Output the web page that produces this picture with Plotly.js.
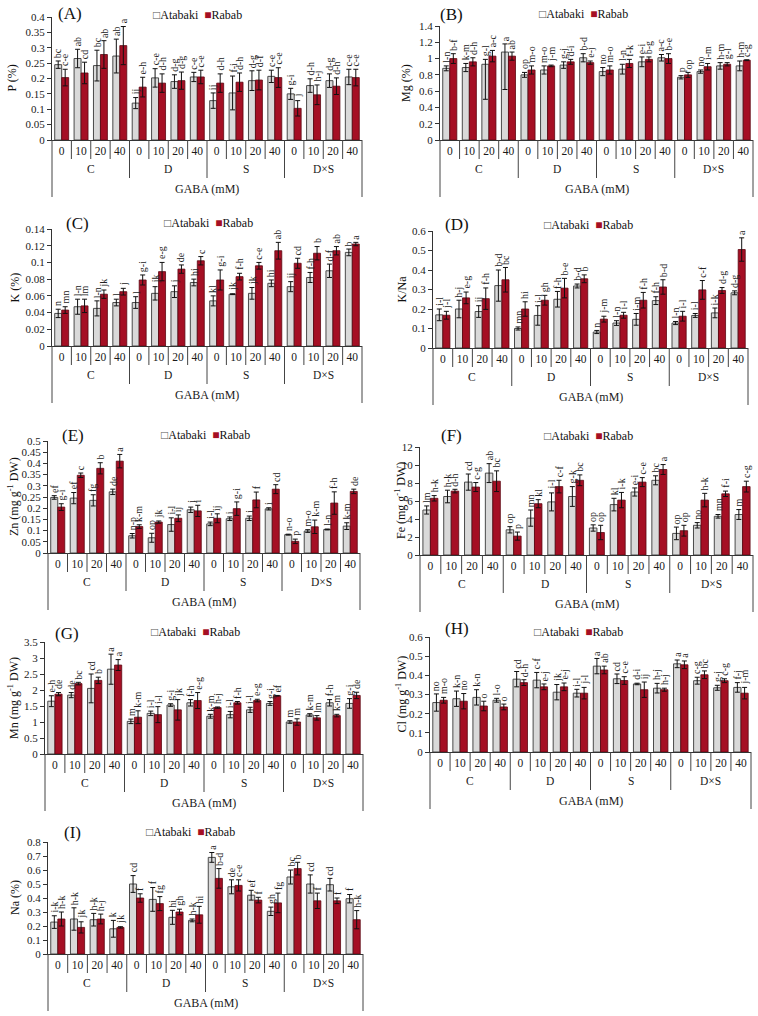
<script src="https://cdn.plot.ly/plotly-3.0.1.min.js"></script>
<style>
  body { margin: 0; background: #fff; }
  #chart { width: 758px; height: 1016px; }
</style>
<div id="chart"></div>
<script>
// category axis: 4 stress groups x 4 GABA levels
const groups = ['C', 'D', 'S', 'D×S'];
const levels = ['0', '10', '20', '40'];

// (A) P
const P_at = [0.245, 0.265, 0.242, 0.273, 0.120, 0.202, 0.190, 0.205, 0.128, 0.153, 0.193, 0.207, 0.150, 0.177, 0.193, 0.205];
const P_atErr = [0.012, 0.030, 0.050, 0.055, 0.018, 0.030, 0.022, 0.015, 0.025, 0.055, 0.032, 0.020, 0.018, 0.022, 0.022, 0.025];
const P_atLet = ['bc', 'ab', 'bc', 'ab', 'ij', 'c-e', 'd-g', 'c-e', 'ij', 'f-i', 'd-g', 'c-e', 'g-i', 'd-h', 'd-g', 'c-e'];
const P_ra = [0.203, 0.218, 0.278, 0.307, 0.172, 0.185, 0.193, 0.205, 0.185, 0.188, 0.195, 0.203, 0.103, 0.147, 0.175, 0.203];
const P_raErr = [0.027, 0.035, 0.045, 0.062, 0.032, 0.030, 0.028, 0.022, 0.030, 0.030, 0.032, 0.032, 0.025, 0.032, 0.027, 0.027];
const P_raLet = ['c-e', 'cd', 'ab', 'a', 'e-h', 'd-h', 'd-g', 'c-e', 'd-h', 'd-h', 'd-f', 'c-e', 'j', 'h-j', 'd-h', 'c-e'];

// (B) Mg
const Mg_at = [0.88, 0.89, 0.93, 1.08, 0.80, 0.86, 0.92, 1.01, 0.84, 0.87, 0.96, 1.01, 0.77, 0.84, 0.91, 0.91];
const Mg_atErr = [0.03, 0.05, 0.06, 0.10, 0.03, 0.05, 0.04, 0.05, 0.05, 0.06, 0.06, 0.04, 0.02, 0.02, 0.04, 0.06];
const Mg_atErrMinus = [0.03, 0.05, 0.43, 0.46, 0.03, 0.05, 0.04, 0.05, 0.05, 0.06, 0.06, 0.04, 0.02, 0.02, 0.04, 0.06];
const Mg_atLet = ['l-n', 'k-m', 'g-l', 'a', 'op', 'm-o', 'g-j', 'b-d', 'no', 'l-n', 'e-i', 'a-c', 'p', 'no', 'h-m', 'h-m'];
const Mg_ra = [1.00, 0.96, 1.03, 1.03, 0.86, 0.91, 0.96, 0.95, 0.86, 0.94, 0.99, 1.00, 0.80, 0.90, 0.93, 0.98];
const Mg_raErr = [0.06, 0.05, 0.07, 0.05, 0.05, 0.01, 0.03, 0.02, 0.05, 0.05, 0.03, 0.06, 0.03, 0.04, 0.02, 0.005];
const Mg_raLet = ['b-f', 'd-h', 'a-c', 'ab', 'm-o', 'j-m', 'd-i', 'e-j', 'm-o', 'f-k', 'b-g', 'b-e', 'op', 'i-m', 'g-l', 'c-g'];

// (C) K
const K_at = [0.039, 0.047, 0.045, 0.052, 0.052, 0.063, 0.065, 0.076, 0.054, 0.062, 0.063, 0.075, 0.071, 0.082, 0.090, 0.112];
const K_atErr = [0.005, 0.009, 0.009, 0.004, 0.007, 0.008, 0.007, 0.004, 0.006, 0.0005, 0.007, 0.004, 0.006, 0.006, 0.008, 0.004];
const K_atLet = ['n', 'l-n', 'l-n', 'l', 'l', 'jk', 'j', 'hi', 'kl', 'jk', 'jk', 'hi', 'ij', 'f-h', 'd-f', 'b'];
const K_ra = [0.043, 0.048, 0.062, 0.065, 0.079, 0.089, 0.092, 0.102, 0.079, 0.083, 0.096, 0.114, 0.099, 0.111, 0.114, 0.122];
const K_raErr = [0.004, 0.008, 0.005, 0.004, 0.006, 0.011, 0.005, 0.005, 0.012, 0.004, 0.004, 0.010, 0.006, 0.008, 0.005, 0.002];
const K_raLet = ['mn', 'lm', 'jk', 'j', 'g-i', 'e-g', 'de', 'c', 'g-i', 'f-h', 'c-e', 'ab', 'cd', 'b', 'ab', 'a'];

// (D) K/Na
const KNa_at = [0.170, 0.200, 0.187, 0.320, 0.100, 0.167, 0.250, 0.318, 0.082, 0.128, 0.147, 0.243, 0.128, 0.167, 0.180, 0.283];
const KNa_atErr = [0.030, 0.045, 0.030, 0.080, 0.008, 0.050, 0.040, 0.010, 0.008, 0.012, 0.030, 0.020, 0.008, 0.010, 0.025, 0.010];
const KNa_atLet = ['i-l', 'h-j', 'ij', 'b-d', 'mn', 'i-l', 'f-h', 'b-d', 'n', 'l-n', 'i-m', 'f-h', 'l-n', 'i-l', 'i-k', 'd-g'];
const KNa_ra = [0.168, 0.257, 0.253, 0.350, 0.200, 0.245, 0.307, 0.355, 0.148, 0.168, 0.245, 0.313, 0.163, 0.298, 0.295, 0.505];
const KNa_raErr = [0.020, 0.030, 0.055, 0.063, 0.037, 0.025, 0.050, 0.020, 0.015, 0.015, 0.040, 0.037, 0.025, 0.048, 0.015, 0.060];
const KNa_raLet = ['j-l', 'e-g', 'f-h', 'bc', 'hi', 'gh', 'b-e', 'b', 'j-m', 'i-l', 'f-h', 'b-d', 'i-l', 'c-f', 'd-g', 'a'];

// (E) Zn
const Zn_at = [0.248, 0.245, 0.235, 0.273, 0.077, 0.068, 0.127, 0.193, 0.130, 0.153, 0.155, 0.197, 0.082, 0.098, 0.105, 0.120];
const Zn_atErr = [0.008, 0.025, 0.025, 0.012, 0.010, 0.020, 0.030, 0.012, 0.008, 0.008, 0.010, 0.005, 0.002, 0.006, 0.002, 0.015];
const Zn_atLet = ['ef', 'ef', 'fg', 'de', 'n-p', 'op', 'i-l', 'j', 'i-l', 'i', 'i', 'i', 'n-o', 'm-o', 'l-n', 'k-m'];
const Zn_ra = [0.205, 0.347, 0.378, 0.410, 0.118, 0.138, 0.155, 0.188, 0.155, 0.198, 0.237, 0.285, 0.052, 0.117, 0.223, 0.275];
const Zn_raErr = [0.015, 0.010, 0.025, 0.030, 0.008, 0.005, 0.015, 0.025, 0.020, 0.030, 0.035, 0.020, 0.010, 0.030, 0.050, 0.010];
const Zn_raLet = ['g-i', 'c', 'b', 'a', 'k-m', 'jk', 'ij', 'i', 'ij', 'g-i', 'f', 'cd', 'p', 'k-m', 'f-h', 'de'];

// (F) Fe
const Fe_at = [5.0, 6.5, 8.1, 9.1, 2.8, 4.1, 5.9, 6.5, 3.0, 5.6, 7.0, 8.3, 2.4, 3.3, 4.3, 4.5];
const Fe_atErr = [0.45, 0.7, 0.9, 1.05, 0.35, 0.9, 1.0, 1.1, 0.35, 0.7, 0.45, 0.5, 0.7, 0.3, 0.2, 0.55];
const Fe_atLet = ['lm', 'h-k', 'cd', 'ab', 'op', 'mn', 'j-l', 'g-k', 'op', 'kl', 'e-i', 'bc', 'op', 'no', 'mn', 'm'];
const Fe_ra = [6.3, 7.1, 7.55, 8.2, 2.1, 5.7, 7.6, 8.3, 2.5, 6.1, 8.1, 9.5, 2.7, 6.1, 6.8, 7.6];
const Fe_raErr = [0.3, 0.2, 0.5, 1.15, 0.45, 0.45, 0.7, 0.6, 0.8, 0.85, 0.5, 0.55, 0.6, 0.75, 0.3, 0.6];
const Fe_raLet = ['h-k', 'd-h', 'c-g', 'bc', 'p', 'kl', 'c-f', 'bc', 'op', 'i-k', 'c-e', 'a', 'op', 'h-k', 'f-i', 'c-g'];

// (G) Mn
const Mn_at = [1.65, 1.84, 2.05, 2.65, 1.02, 1.27, 1.53, 1.60, 1.18, 1.23, 1.38, 1.58, 1.00, 1.22, 1.60, 1.58];
const Mn_atErr = [0.17, 0.08, 0.45, 0.47, 0.07, 0.07, 0.04, 0.10, 0.06, 0.10, 0.08, 0.06, 0.04, 0.04, 0.10, 0.15];
const Mn_atLet = ['e-h', 'de', 'cd', 'a', 'm', 'i-l', 'g-i', 'f-h', 'k-m', 'i-l', 'i-l', 'g-i', 'm', 'k-m', 'f-h', 'g-i'];
const Mn_ra = [1.87, 2.20, 2.30, 2.78, 1.15, 1.23, 1.38, 1.67, 1.45, 1.60, 1.67, 1.82, 1.00, 1.13, 1.20, 1.83];
const Mn_raErr = [0.05, 0.04, 0.10, 0.17, 0.20, 0.25, 0.32, 0.25, 0.02, 0.04, 0.04, 0.01, 0.10, 0.07, 0.04, 0.10];
const Mn_raLet = ['de', 'bc', 'b', 'a', 'k-m', 'i-l', 'jk', 'e-g', 'h-j', 'f-h', 'e-g', 'ef', 'm', 'lm', 'k-m', 'de'];

// (H) Cl
const Cl_at = [0.258, 0.278, 0.285, 0.270, 0.380, 0.375, 0.312, 0.307, 0.448, 0.382, 0.355, 0.333, 0.460, 0.372, 0.335, 0.337];
const Cl_atErr = [0.045, 0.040, 0.040, 0.010, 0.040, 0.040, 0.040, 0.020, 0.040, 0.025, 0.004, 0.025, 0.020, 0.018, 0.013, 0.025];
const Cl_atLet = ['no', 'k-n', 'k-n', 'l-o', 'cd', 'c-f', 'jk', 'i-l', 'a', 'cd', 'd-i', 'h-j', 'a', 'c-g', 'g-j', 'f-j'];
const Cl_ra = [0.270, 0.265, 0.240, 0.235, 0.362, 0.340, 0.340, 0.307, 0.428, 0.373, 0.325, 0.325, 0.455, 0.403, 0.372, 0.307];
const Cl_raErr = [0.015, 0.040, 0.025, 0.015, 0.015, 0.015, 0.020, 0.030, 0.020, 0.020, 0.040, 0.008, 0.020, 0.020, 0.010, 0.030];
const Cl_raLet = ['m-o', 'no', 'o', 'o', 'd-h', 'e-j', 'e-j', 'j-l', 'ab', 'c-e', 'ij', 'h-j', 'a', 'bc', 'c-g', 'j-m'];

// (I) Na
const Na_at = [0.228, 0.250, 0.245, 0.180, 0.500, 0.390, 0.262, 0.240, 0.690, 0.480, 0.420, 0.305, 0.550, 0.500, 0.495, 0.395];
const Na_atErr = [0.045, 0.080, 0.045, 0.060, 0.060, 0.085, 0.050, 0.010, 0.035, 0.050, 0.035, 0.030, 0.050, 0.065, 0.045, 0.030];
const Na_atLet = ['i-k', 'h-k', 'h-k', 'k', 'cd', 'f', 'hi', 'h-k', 'a', 'de', 'ef', 'gh', 'bc', 'cd', 'cd', 'f'];
const Na_ra = [0.250, 0.190, 0.250, 0.190, 0.400, 0.360, 0.300, 0.280, 0.540, 0.490, 0.385, 0.365, 0.610, 0.380, 0.380, 0.245];
const Na_raErr = [0.050, 0.040, 0.035, 0.005, 0.030, 0.050, 0.020, 0.060, 0.070, 0.040, 0.020, 0.070, 0.045, 0.055, 0.020, 0.065];
const Na_raLet = ['h-k', 'jk', 'h-j', 'jk', 'f', 'fg', 'gh', 'hi', 'b-d', 'c-e', 'f', 'fg', 'b', 'f', 'f', 'h-k'];

const panels = [
  { tag: '(A)', ytitle: 'P (%)', ymax: 0.4, dtick: 0.05, at: P_at, atErr: P_atErr, atLet: P_atLet, ra: P_ra, raErr: P_raErr, raLet: P_raLet },
  { tag: '(B)', ytitle: 'Mg (%)', ymax: 1.4, dtick: 0.2, at: Mg_at, atErr: Mg_atErr, atErrMinus: Mg_atErrMinus, atLet: Mg_atLet, ra: Mg_ra, raErr: Mg_raErr, raLet: Mg_raLet },
  { tag: '(C)', ytitle: 'K (%)', ymax: 0.14, dtick: 0.02, at: K_at, atErr: K_atErr, atLet: K_atLet, ra: K_ra, raErr: K_raErr, raLet: K_raLet },
  { tag: '(D)', ytitle: 'K/Na', ymax: 0.6, dtick: 0.1, at: KNa_at, atErr: KNa_atErr, atLet: KNa_atLet, ra: KNa_ra, raErr: KNa_raErr, raLet: KNa_raLet },
  { tag: '(E)', ytitle: 'Zn (mg g<sup>-1</sup> DW)', ymax: 0.5, dtick: 0.05, at: Zn_at, atErr: Zn_atErr, atLet: Zn_atLet, ra: Zn_ra, raErr: Zn_raErr, raLet: Zn_raLet },
  { tag: '(F)', ytitle: 'Fe (mg g<sup>-1</sup> DW)', ymax: 12, dtick: 2, at: Fe_at, atErr: Fe_atErr, atLet: Fe_atLet, ra: Fe_ra, raErr: Fe_raErr, raLet: Fe_raLet },
  { tag: '(G)', ytitle: 'Mn (mg g<sup>-1</sup> DW)', ymax: 3.5, dtick: 0.5, at: Mn_at, atErr: Mn_atErr, atLet: Mn_atLet, ra: Mn_ra, raErr: Mn_raErr, raLet: Mn_raLet },
  { tag: '(H)', ytitle: 'Cl (mg g<sup>-1</sup> DW)', ymax: 0.6, dtick: 0.1, at: Cl_at, atErr: Cl_atErr, atLet: Cl_atLet, ra: Cl_ra, raErr: Cl_raErr, raLet: Cl_raLet },
  { tag: '(I)', ytitle: 'Na (%)', ymax: 0.8, dtick: 0.1, at: Na_at, atErr: Na_atErr, atLet: Na_atLet, ra: Na_ra, raErr: Na_raErr, raLet: Na_raLet }
];

// pixel placement of each panel (left, right, top of y range, y=0 line, tag, legend, y title)
const geo = [
  { x0: 52, x1: 362, yt: 17, yb: 140, tx: 70, ty: 14, lx: 197, ly: 15, yx: 12 },
  { x0: 440, x1: 753, yt: 26, yb: 140, tx: 451, ty: 15, lx: 583, ly: 14, yx: 406 },
  { x0: 52, x1: 362, yt: 229, yb: 346, tx: 77, ty: 223, lx: 208, ly: 223, yx: 14 },
  { x0: 433, x1: 748, yt: 231, yb: 348, tx: 457, ty: 224, lx: 588, ly: 225, yx: 401 },
  { x0: 48, x1: 360, yt: 441, yb: 553, tx: 73, ty: 435, lx: 205, ly: 435, yx: 13 },
  { x0: 420, x1: 753, yt: 447, yb: 555, tx: 451, ty: 435, lx: 588, ly: 436, yx: 400 },
  { x0: 45, x1: 363, yt: 642, yb: 754, tx: 67, ty: 633, lx: 195, ly: 632, yx: 13 },
  { x0: 430, x1: 751, yt: 637, yb: 752, tx: 457, ty: 628, lx: 578, ly: 632, yx: 401 },
  { x0: 48, x1: 363, yt: 842, yb: 954, tx: 72, ty: 832, lx: 190, ly: 832, yx: 15 }
];

const W = 758, H = 1016;
const px = v => v / W;
const py = v => 1 - v / H;
const serif = 'Liberation Serif, Times New Roman, serif';
const atColor = '#d9d9d9', raColor = '#a50f24';
const BARGAP = 0.28;
const off = (1 - BARGAP) / 4;

const idx = [];
const tickText = [];
groups.forEach((g, gi) => levels.forEach((l, li) => { idx.push(gi * 4 + li); tickText.push(l); }));

const traces = [];
const annotations = [];
const shapes = [];
const layout = {
  width: W, height: H,
  margin: { l: 0, r: 0, t: 0, b: 0 },
  paper_bgcolor: '#fff', plot_bgcolor: '#fff',
  barmode: 'group', bargap: BARGAP, bargroupgap: 0,
  showlegend: false,
  font: { family: serif, color: '#1a1a1a', size: 11 }
};

panels.forEach((p, k) => {
  const g = geo[k];
  const n = k === 0 ? '' : String(k + 1);
  const xa = 'x' + n, ya = 'y' + n;

  traces.push({
    type: 'bar', name: 'Atabaki', x: idx, y: p.at, xaxis: xa, yaxis: ya,
    marker: { color: atColor, line: { color: '#4a4a4a', width: 1 } },
    error_y: { type: 'data', array: p.atErr, arrayminus: p.atErrMinus || p.atErr, symmetric: false,
               color: '#111', thickness: 1, width: 2.5 }
  });
  traces.push({
    type: 'bar', name: 'Rabab', x: idx, y: p.ra, xaxis: xa, yaxis: ya,
    marker: { color: raColor, line: { color: '#5c0812', width: 0.8 } },
    error_y: { type: 'data', array: p.raErr, color: '#111', thickness: 1, width: 2.5 }
  });

  layout['xaxis' + n] = {
    domain: [px(g.x0), px(g.x1)], anchor: ya, range: [-0.5, 15.5],
    tickvals: idx, ticktext: tickText, ticks: '', showgrid: false, zeroline: false,
    showline: true, linecolor: '#333', linewidth: 1,
    tickfont: { family: serif, size: 11.5, color: '#1a1a1a' }, fixedrange: true
  };
  layout['yaxis' + n] = {
    domain: [py(g.yb), py(g.yt)], anchor: xa, range: [0, p.ymax], dtick: p.dtick,
    showgrid: false, zeroline: false, showline: true, linecolor: '#333', linewidth: 1,
    ticks: 'outside', ticklen: 4, tickcolor: '#333',
    tickfont: { family: serif, size: 11, color: '#1a1a1a' }, fixedrange: true
  };

  // separators under the category axis (domain refs so they are not clipped to the plot area)
  for (let s = -1; s < 16; s++) {
    const len = (s === -1 || s === 15) ? 57 : ((s + 1) % 4 === 0 ? 38 : 19);
    const fx = (s + 1) / 16;
    shapes.push({
      type: 'line', xref: xa + ' domain', yref: ya + ' domain', ysizemode: 'pixel', yanchor: 0,
      x0: fx, x1: fx, y0: 0, y1: -len,
      line: { color: '#444', width: 1 }
    });
  }
  groups.forEach((gr, gi) => {
    annotations.push({ xref: xa, yref: ya, x: gi * 4 + 1.5, y: 0, yshift: -29, text: gr,
      xanchor: 'center', yanchor: 'middle', showarrow: false, font: { family: serif, size: 11.5 } });
  });
  annotations.push({ xref: xa, yref: ya, x: 7.5, y: 0, yshift: -49, text: 'GABA (mM)',
    xanchor: 'center', yanchor: 'middle', showarrow: false, font: { family: serif, size: 12 } });

  // significance letters above error bars
  idx.forEach(i => {
    annotations.push({ xref: xa, yref: ya, x: i - off, y: p.at[i] + p.atErr[i], xanchor: 'center', yanchor: 'bottom',
      yshift: 1, textangle: -90, text: p.atLet[i], showarrow: false,
      font: { family: serif, size: 10, color: '#222' } });
    annotations.push({ xref: xa, yref: ya, x: i + off, y: p.ra[i] + p.raErr[i], xanchor: 'center', yanchor: 'bottom',
      yshift: 1, textangle: -90, text: p.raLet[i], showarrow: false,
      font: { family: serif, size: 10, color: '#222' } });
  });

  // panel tag, legend and y title
  annotations.push({ xref: 'paper', yref: 'paper', x: px(g.tx), y: py(g.ty), text: p.tag,
    xanchor: 'center', yanchor: 'middle', showarrow: false, font: { family: serif, size: 17, color: '#111' } });
  annotations.push({ xref: 'paper', yref: 'paper', x: px(g.lx), y: py(g.ly),
    text: '<span style="color:#555">□</span>Atabaki  <span style="color:' + raColor + '">■</span>Rabab',
    xanchor: 'center', yanchor: 'middle', showarrow: false, font: { family: serif, size: 12, color: '#111' } });
  annotations.push({ xref: 'paper', yref: 'paper', x: px(g.yx), y: py((g.yt + g.yb) / 2),
    text: p.ytitle, textangle: -90, xanchor: 'center', yanchor: 'middle', showarrow: false,
    font: { family: serif, size: 12, color: '#111' } });
});

layout.annotations = annotations;
layout.shapes = shapes;

Plotly.newPlot('chart', traces, layout, { displayModeBar: false, staticPlot: true });
</script>
